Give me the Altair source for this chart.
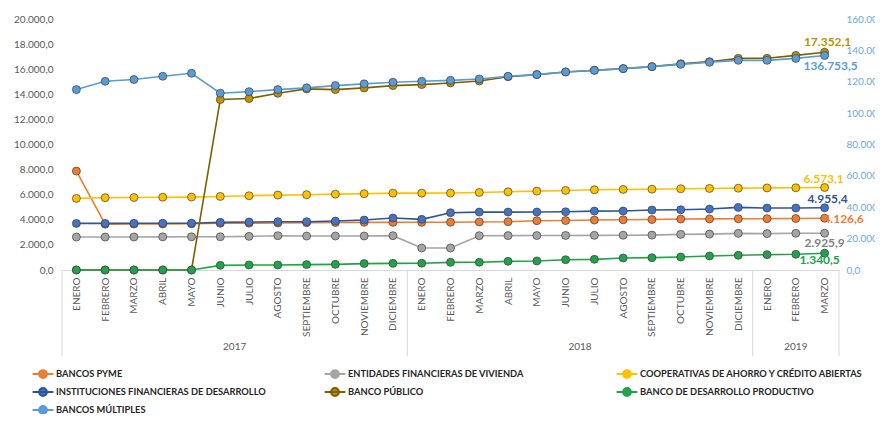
import altair as alt
import pandas as pd

MONTHS = ["ENERO", "FEBRERO", "MARZO", "ABRIL", "MAYO", "JUNIO", "JULIO", "AGOSTO",
          "SEPTIEMBRE", "OCTUBRE", "NOVIEMBRE", "DICIEMBRE"]
YEARS = ["2017", "2018", "2019"]
PERIODS = [(m, "2017") for m in MONTHS] + [(m, "2018") for m in MONTHS] + [(m, "2019") for m in MONTHS[:3]]
KEYS = [f"{m}|{y}" for m, y in PERIODS]

SERIES = ["BANCOS PYME", "ENTIDADES FINANCIERAS DE VIVIENDA", "COOPERATIVAS DE AHORRO Y CRÉDITO ABIERTAS",
          "INSTITUCIONES FINANCIERAS DE DESARROLLO", "BANCO PÚBLICO", "BANCO DE DESARROLLO PRODUCTIVO",
          "BANCOS MÚLTIPLES"]

bancos_pyme = [7880, 3650, 3660, 3670, 3680, 3720, 3735, 3745, 3770, 3780, 3795, 3795, 3800, 3810, 3830,
               3850, 3930, 3940, 3980, 4000, 4020, 4060, 4070, 4080, 4090, 4100, 4126.6]
entidades_vivienda = [2625, 2625, 2630, 2640, 2645, 2650, 2680, 2735, 2705, 2710, 2710, 2735, 1750, 1750,
                      2735, 2740, 2745, 2750, 2760, 2770, 2780, 2840, 2860, 2920, 2900, 2925, 2925.9]
cooperativas = [5705, 5760, 5780, 5800, 5810, 5860, 5915, 5970, 6000, 6045, 6080, 6125, 6125, 6130, 6180,
                6235, 6285, 6340, 6390, 6420, 6440, 6475, 6500, 6520, 6540, 6550, 6573.1]
ifd = [3715, 3715, 3720, 3725, 3730, 3795, 3820, 3850, 3850, 3900, 3980, 4140, 4035, 4565, 4615, 4615,
       4620, 4640, 4695, 4700, 4775, 4800, 4855, 4990, 4935, 4935, 4955.4]
banco_publico = [0, 0, 0, 0, 0, 13580, 13660, 14080, 14430, 14375, 14510, 14694, 14773, 14905, 15065,
                 15400, 15570, 15780, 15910, 16046, 16205, 16440, 16600, 16865, 16870, 17100, 17352.1]
banco_desarrollo = [0, 0, 0, 0, 0, 370, 400, 400, 430, 450, 510, 530, 540, 610, 615, 690, 720, 820, 850,
                    955, 985, 1035, 1115, 1170, 1225, 1250, 1340.5]
bancos_multiples = [115000, 120300, 121400, 123500, 125400, 112700, 113700, 115000, 116100, 117550, 118650,
                    119700, 120300, 120900, 121800, 123500, 124550, 126250, 127300, 128350, 129650, 131100,
                    132400, 133650, 133650, 134900, 136753.5]

VALUES = [bancos_pyme, entidades_vivienda, cooperativas, ifd, banco_publico, banco_desarrollo, bancos_multiples]

LINE_COLORS = ["#ED7D31", "#A5A5A5", "#FFC000", "#2F5597", "#7F6000", "#22A24A", "#5B9BD5"]
MARKER_COLORS = ["#ED7D31", "#A5A5A5", "#FFC000", "#4472C4", "#BF9000", "#22A24A", "#5B9BD5"]
LABEL_COLORS = ["#ED7D31", "#7F7F7F", "#FFC000", "#2F5597", "#BF9000", "#22A24A", "#5B9BD5"]
LABEL_OFFSETS = [(19, 1), (0, 10), (-1, -9), (3, -9), (3, -10), (-5, 7), (6, 11)]

YEAR_SPANS = [(0, 12), (12, 24), (24, 27)]
SEPARATORS = [0, 12, 24, 27]


def es_fmt(v):
    s = f"{v:,.1f}"
    return s.replace(",", "_").replace(".", ",").replace("_", ".")


rows = []
for s, vals in zip(SERIES, VALUES):
    for k, v in zip(KEYS, vals):
        rows.append({"serie": s, "periodo": k, "valor": v})
df = pd.DataFrame(rows)
df_left = df[df.serie != "BANCOS MÚLTIPLES"]
df_right = df[df.serie == "BANCOS MÚLTIPLES"]

FONT = "Lato"
W, H = 777, 251

color = alt.Color("serie:N", scale=alt.Scale(domain=SERIES, range=LINE_COLORS), sort=SERIES,
                  legend=alt.Legend(title=None, orient="none", legendX=-29, legendY=345, columns=3,
                                    direction="horizontal", gridAlign="all", columnPadding=40,
                                    rowPadding=0, padding=0,
                                    symbolType="M-1.2,0L1.2,0M0.45,0A0.45,0.45,0,1,1,-0.45,0A0.45,0.45,0,1,1,0.45,0Z",
                                    symbolSize=300, symbolStrokeWidth=2, symbolOffset=0,
                                    labelFont=FONT, labelFontSize=9.3, labelFontWeight="bold",
                                    labelColor="#262626", labelOffset=3, labelLimit=400))
fill = alt.Fill("serie:N", scale=alt.Scale(domain=SERIES, range=MARKER_COLORS), legend=None)

es_label = "replace(replace(replace(format(datum.value, ',.1f'), '.', '#'), ',', '.'), '#', ',')"

x_left = alt.X("periodo:N", sort=KEYS, scale=alt.Scale(type="point", domain=KEYS, padding=0.5),
               axis=alt.Axis(title=None, labelAngle=270, labelAlign="right", labelBaseline="middle",
                             labelExpr="split(datum.label, '|')[0]", labelFont=FONT, labelFontSize=10,
                             labelColor="#595959", labelPadding=7, ticks=False, domain=True,
                             domainColor="#D9D9D9", grid=False))
x_right = alt.X("periodo:N", sort=KEYS, scale=alt.Scale(type="point", domain=KEYS, padding=0.5), axis=None)

y_left = alt.Y("valor:Q", scale=alt.Scale(domain=[0, 20000]),
               axis=alt.Axis(title=None, values=list(range(0, 20001, 2000)), labelExpr=es_label,
                             labelFont=FONT, labelFontSize=10, labelColor="#595959", ticks=False,
                             domain=False, grid=False, labelPadding=9, orient="left"))
y_right = alt.Y("valor:Q", scale=alt.Scale(domain=[0, 160000]),
                axis=alt.Axis(title=None, values=list(range(0, 160001, 20000)), labelExpr=es_label,
                              labelFont=FONT, labelFontSize=10, labelColor="#6FA8DC", ticks=False,
                              domain=False, grid=False, labelPadding=7, orient="right"))

base_left = alt.Chart(df_left)
left_lines = base_left.mark_line(strokeWidth=1.6).encode(x=x_left, y=y_left, color=color, detail="serie:N")
left_pts = base_left.mark_circle(size=64, opacity=1, stroke="#3b3b3b", strokeWidth=0.9, strokeOpacity=0.75).encode(
    x=x_left, y=y_left, fill=fill)

label_layers = []
for i, s in enumerate(SERIES[:-1]):
    d = pd.DataFrame([{"periodo": KEYS[-1], "valor": VALUES[i][-1], "txt": es_fmt(VALUES[i][-1])}])
    dx, dy = LABEL_OFFSETS[i]
    label_layers.append(alt.Chart(d).mark_text(font=FONT, fontSize=12, fontWeight="bold", color=LABEL_COLORS[i],
                                               dx=dx, dy=dy, baseline="middle", align="center").encode(
        x=x_left, y=y_left, text="txt:N"))

left = alt.layer(left_lines, left_pts, *label_layers)

base_right = alt.Chart(df_right)
right_lines = base_right.mark_line(strokeWidth=1.6).encode(x=x_right, y=y_right, color=color)
right_pts = base_right.mark_circle(size=64, opacity=1, stroke="#3b3b3b", strokeWidth=0.9, strokeOpacity=0.75).encode(
    x=x_right, y=y_right, fill=fill)
dR = pd.DataFrame([{"periodo": KEYS[-1], "valor": VALUES[-1][-1], "txt": es_fmt(VALUES[-1][-1])}])
dxR, dyR = LABEL_OFFSETS[-1]
right_lab = alt.Chart(dR).mark_text(font=FONT, fontSize=12, fontWeight="bold", color=LABEL_COLORS[-1],
                                    dx=dxR, dy=dyR, baseline="middle", align="center").encode(
    x=x_right, y=y_right, text="txt:N")
right = alt.layer(right_lines, right_pts, right_lab)

sep_x = alt.X("pos:Q", scale=alt.Scale(domain=[0, 27], nice=False, zero=False), axis=None)
sep_df = pd.DataFrame({"pos": SEPARATORS})
seps = alt.Chart(sep_df).mark_rule(color="#D9D9D9", strokeWidth=1).encode(
    x=sep_x, y=alt.value(H), y2=alt.value(H + 86))

year_df = pd.DataFrame({"year": YEARS, "pos": [(a + b) / 2 for a, b in YEAR_SPANS]})
years = alt.Chart(year_df).mark_text(font=FONT, fontSize=10, color="#595959", baseline="middle").encode(
    x=sep_x, y=alt.value(H + 77), text="year:N")

chart = alt.layer(seps, years, left, right).resolve_scale(y="independent", x="independent").properties(
    width=W, height=H, autosize=alt.AutoSizeParams(type="none"),
    padding={"left": 54, "top": 11, "right": 36, "bottom": 144}
).configure(font=FONT).configure_view(stroke=None)

chart.save("out.html", embed_options={"renderer": "svg", "actions": False})
